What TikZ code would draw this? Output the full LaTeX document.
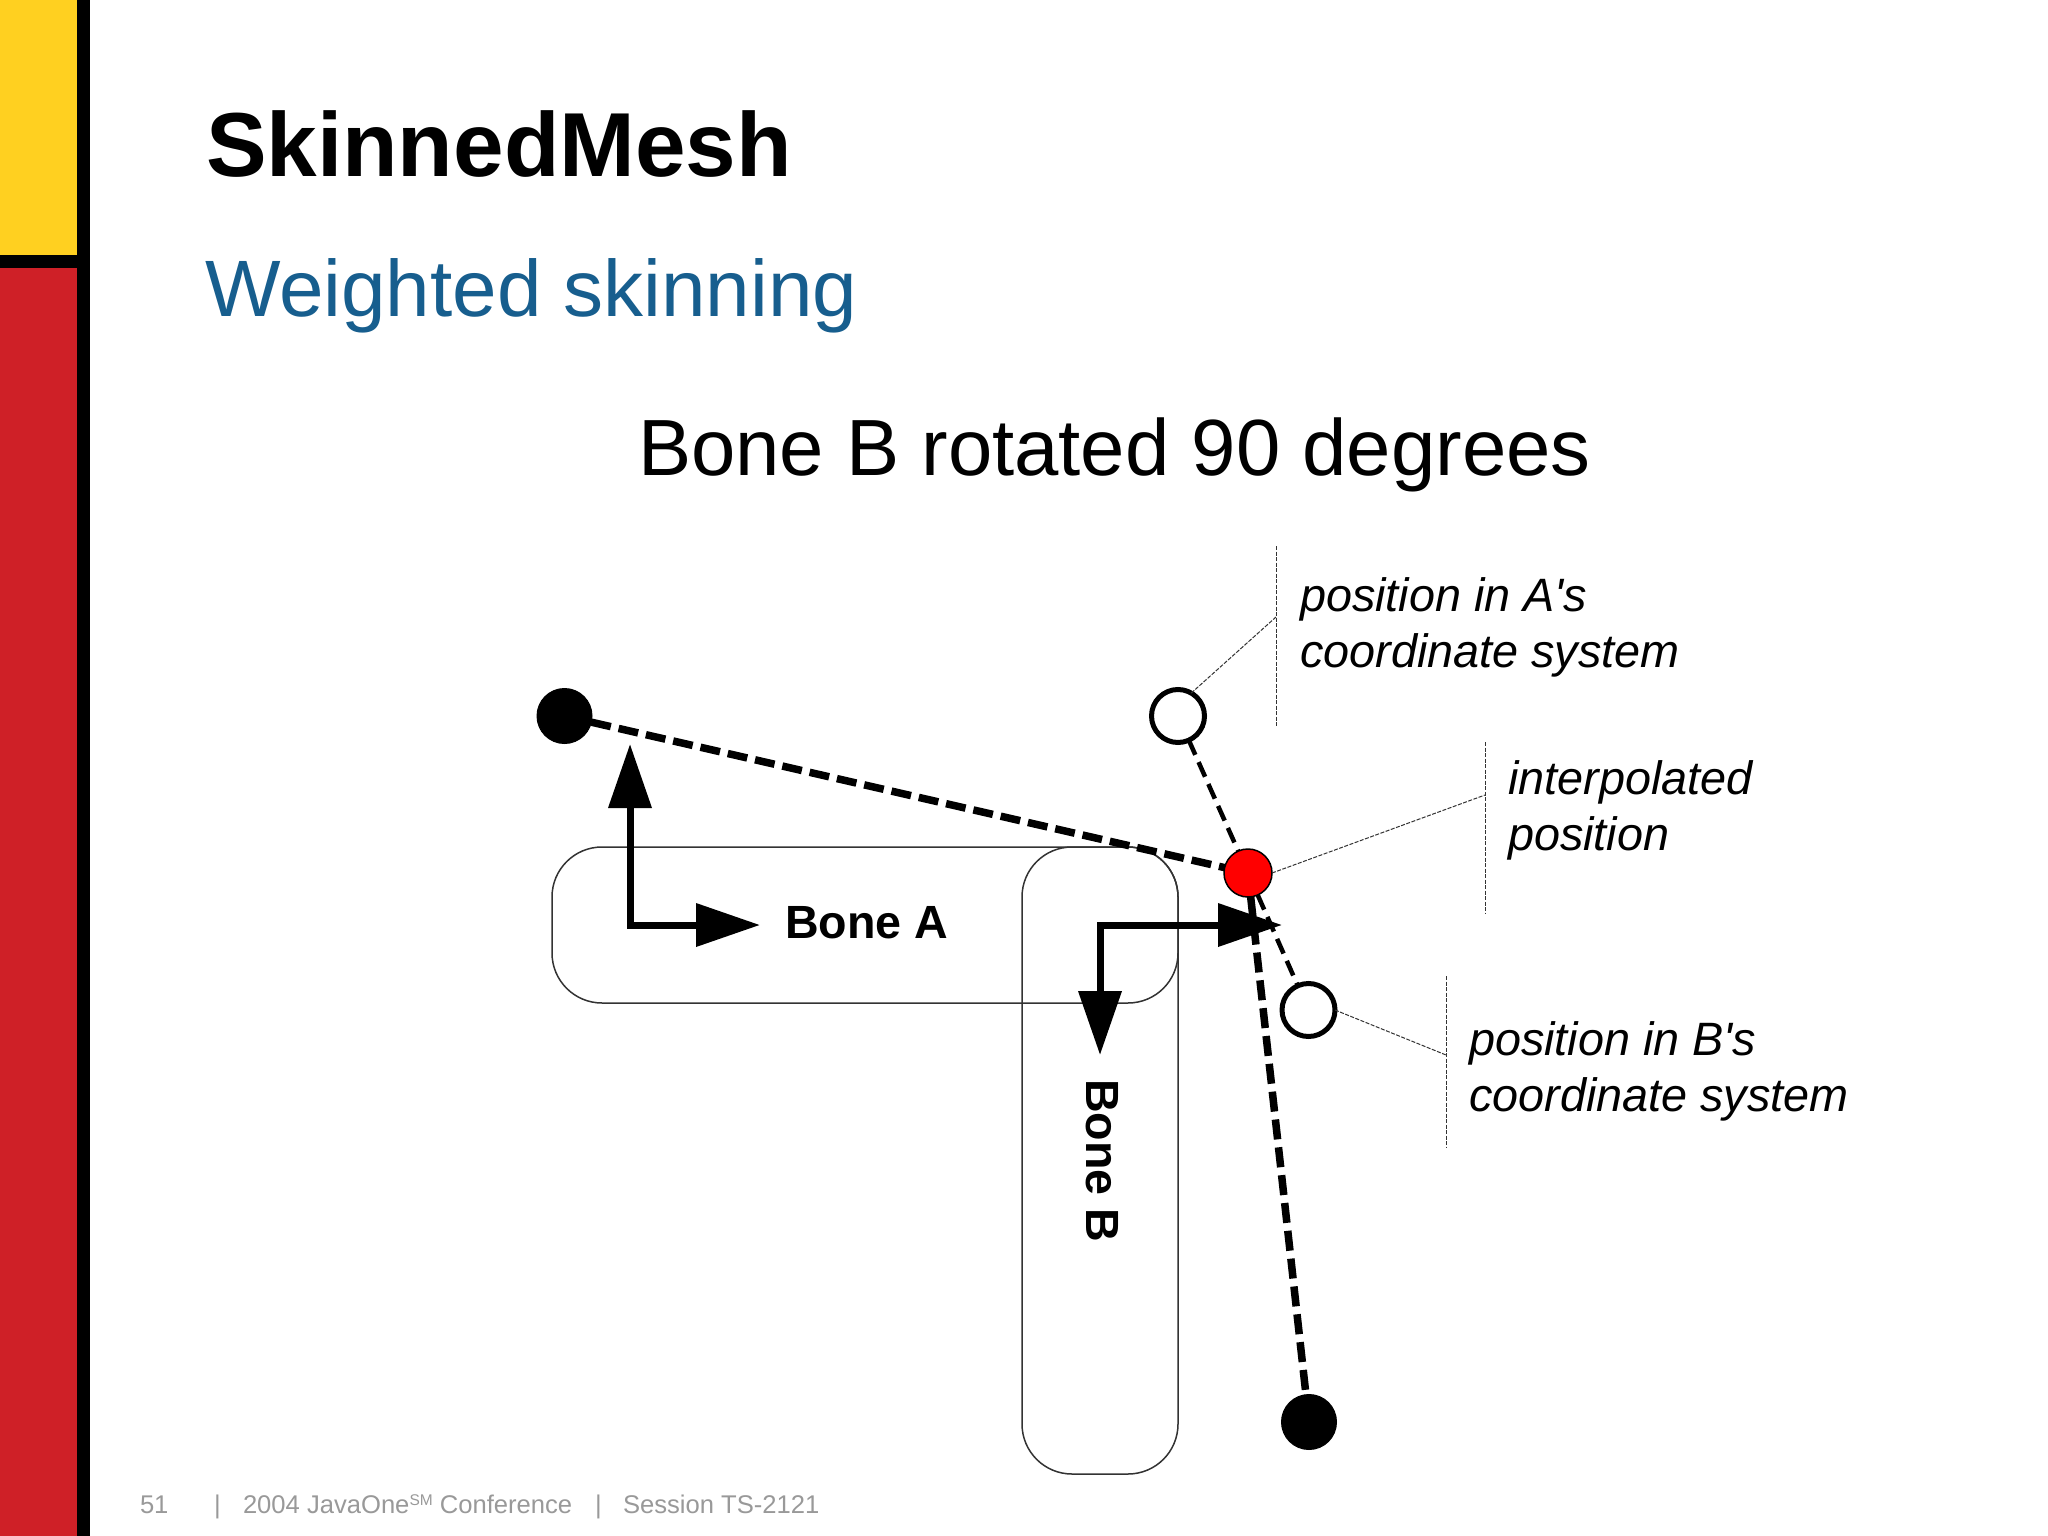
\documentclass[tikz,border=0pt]{standalone}
\usepackage{fontspec}
\setmainfont[Ligatures=TeXOff]{Liberation Sans}
\usetikzlibrary{arrows.meta}
\definecolor{barYellow}{HTML}{FFD020}
\definecolor{barRed}{HTML}{CF2027}
\definecolor{subBlue}{HTML}{175E8E}
\definecolor{footGray}{HTML}{999999}
\definecolor{hotRed}{HTML}{FF0000}
\tikzset{
  x=1pt,y=-1pt,
  txt/.style={inner sep=0pt,outer sep=0pt,anchor=base west,text=black},
  title/.style={txt,font=\fontsize{90.9}{100}\selectfont\bfseries},
  subtitle/.style={txt,text=subBlue,font=\fontsize{80}{90}\selectfont},
  heading/.style={txt,font=\fontsize{79.7}{90}\selectfont},
  callout/.style={inner sep=0pt,outer sep=0pt,anchor=west,align=left,font=\fontsize{46.8}{55.5}\selectfont\itshape},
  bonelabel/.style={txt,font=\fontsize{46.6}{50}\selectfont\bfseries},
  foot/.style={txt,text=footGray,font=\fontsize{25.6}{30}\selectfont},
  bone/.style={draw=black!80,line width=1.5pt,rounded corners=50pt,inner sep=0pt,outer sep=0pt},
  joint/.style={circle,fill=black,draw=black,line width=1pt,minimum size=55pt,inner sep=0pt,outer sep=0pt},
  ghost/.style={circle,fill=white,draw=black,line width=5pt,minimum size=53pt,inner sep=0pt,outer sep=0pt},
  blend/.style={circle,fill=hotRed,draw=black,line width=1.5pt,minimum size=48pt,inner sep=0pt,outer sep=0pt},
  heavy/.style={line width=7.5pt,dash pattern=on 20pt off 8pt},
  light/.style={line width=4.5pt,dash pattern=on 16pt off 8pt},
  leader/.style={line width=1pt,dash pattern=on 4pt off 1.5pt,draw=black!80},
  axes/.style={line width=7pt,{Triangle[length=64pt,width=42pt]}-{Triangle[length=64pt,width=42pt]}},
}
\begin{document}
\begin{tikzpicture}
\useasboundingbox (0,0) rectangle (2048,1536);
\fill[white] (0,0) rectangle (2048,1536);
% side bar
\fill[barYellow] (0,0) rectangle (77,255);
\fill[barRed] (0,268) rectangle (77,1536);
\fill[black] (0,255) rectangle (90,268);
\fill[black] (77,0) rectangle (90,1536);
% texts
\node[title] (ttl) at (206,176) {SkinnedMesh};
\node[subtitle] (sub) at (205,316) {Weighted skinning};
\node[heading] (hd) at (638,475) {Bone B rotated 90 degrees};
% bones
\node[bone,minimum width=626pt,minimum height=156pt] (boneA) at (865,925) {};
\node[bone,minimum width=156pt,minimum height=627pt] (boneB) at (1100,1160.5) {};
\node[bonelabel] (labA) at (785,938) {Bone A};
\node[bonelabel,rotate=-90] (labB) at (1086,1079) {Bone B};
% joints
\node[joint] (ja) at (564.5,716) {};
\node[joint] (jb) at (1309,1422) {};
\node[ghost] (wa) at (1178,716) {};
\node[ghost] (wb) at (1308.5,1010) {};
\node[blend] (mix) at (1248,873) {};
% dashed bones
\draw[heavy] (ja) -- (mix);
\draw[heavy] (mix) -- (jb);
\draw[light] (wa) -- (mix);
\draw[light] (mix) -- (wb);
% axes
\coordinate (oa) at (630,925);
\coordinate (oay) at (630,744);
\coordinate (oax) at (760,925);
\coordinate (ob) at (1100,925);
\coordinate (obx) at (1282,925);
\coordinate (oby) at (1100,1055);
\draw[axes] (oay) -- (oa) -- (oax);
\draw[axes] (oby) -- (ob) -- (obx);
% callouts
\coordinate (b1t) at (1276,546);
\coordinate (b1m) at (1276,617);
\coordinate (b1b) at (1276,727);
\coordinate (b2t) at (1485,742);
\coordinate (b2m) at (1485,795);
\coordinate (b2b) at (1485,913);
\coordinate (b3t) at (1446,976);
\coordinate (b3m) at (1446,1055);
\coordinate (b3b) at (1446,1148);
\draw[leader] (b1t) -- (b1b);
\draw[leader] (b2t) -- (b2b);
\draw[leader] (b3t) -- (b3b);
\draw[leader] (wa.60) -- (b1m);
\draw[leader] (mix.east) -- (b2m);
\draw[leader] (wb.east) -- (b3m);
\node[callout] (c1) at (1300,627.5) {position in A's\\coordinate system};
\node[callout] (c2) at (1508,810.5) {interpolated\\position};
\node[callout] (c3) at (1469,1071.5) {position in B's\\coordinate system};
% footer
\node[foot] (f1) at (140,1513) {51};
\node[foot] (f2) at (214,1513) {|};
\node[foot] (f3) at (243,1513) {2004 JavaOne\raisebox{0.55ex}{\fontsize{15.5}{15.5}\selectfont SM} Conference};
\node[foot] (f4) at (595,1513) {|};
\node[foot] (f5) at (623,1513) {Session TS-2121};
\end{tikzpicture}
\end{document}
